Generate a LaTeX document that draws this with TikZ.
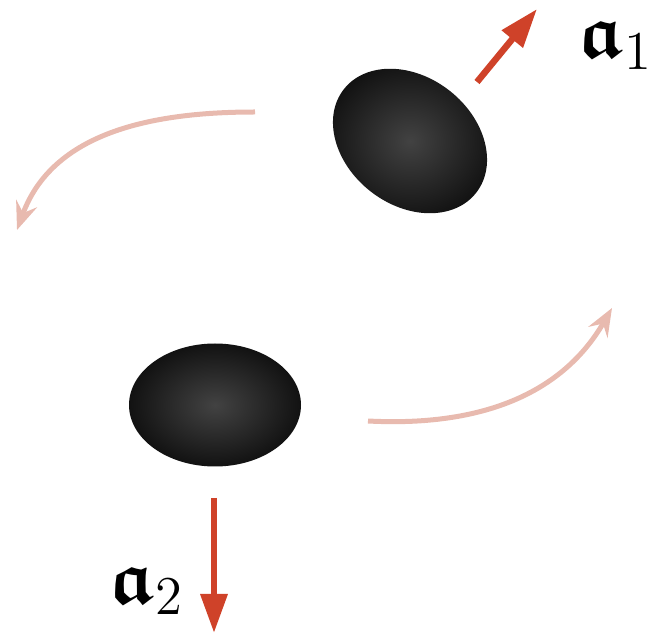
\documentclass[tikz,border=0pt]{standalone}
\usepackage{amsmath, amssymb}
\usepackage{tikz}
\usetikzlibrary{positioning,arrows.meta,shapes.geometric}
\definecolor{forcered}{RGB}{207,66,41}
\definecolor{spinpink}{RGB}{232,186,175}
\tikzset{
  blob/.style={ellipse, inner sep=0pt, inner color=black!74, outer color=black!93},
  forcearrow/.style={-{Triangle[length=39pt, width=26pt]}, line width=6.5pt, draw=forcered},
  spinarrow/.style={-{Stealth[length=28pt, width=22pt, inset=10pt]}, line width=5pt, draw=spinpink},
  forcelabel/.style={inner sep=0pt, anchor=base west, font=\fontsize{20}{24}\selectfont, scale=3.8, transform shape}
}

\begin{document}
\begin{tikzpicture}[x=1pt, y=1pt]
      \useasboundingbox (0,0) rectangle (654,635);
      % the two bodies
      \node[blob, rotate=-38, minimum width=168pt, minimum height=128pt] (top) at (410,494) {};
      \node[blob, minimum width=172pt, minimum height=123pt] (bottom) at (215,230) {};
      % ends of the arrows
      \coordinate (f1a) at (477,553);
      \coordinate (f1b) at (537,626);
      \coordinate (f2a) at (214,137);
      \coordinate (f2b) at (214,2);
      \coordinate (s1a) at (255,523);
      \coordinate (s1b) at (17,405);
      \coordinate (s2a) at (368,214);
      \coordinate (s2b) at (612,327);
      \draw[forcearrow] (f1a) -- (f1b);
      \draw[forcearrow] (f2a) -- (f2b);
      \draw[spinarrow] (s1a) to[out=180,in=70] (s1b);
      \draw[spinarrow] (s2a) to[out=-3,in=240] (s2b);
      \node[forcelabel] (l1) at (578,577) {$\boldsymbol{\mathfrak{a}}_1$};
      \node[forcelabel] (l2) at (109,32) {$\boldsymbol{\mathfrak{a}}_2$};
    \end{tikzpicture}
\end{document}
